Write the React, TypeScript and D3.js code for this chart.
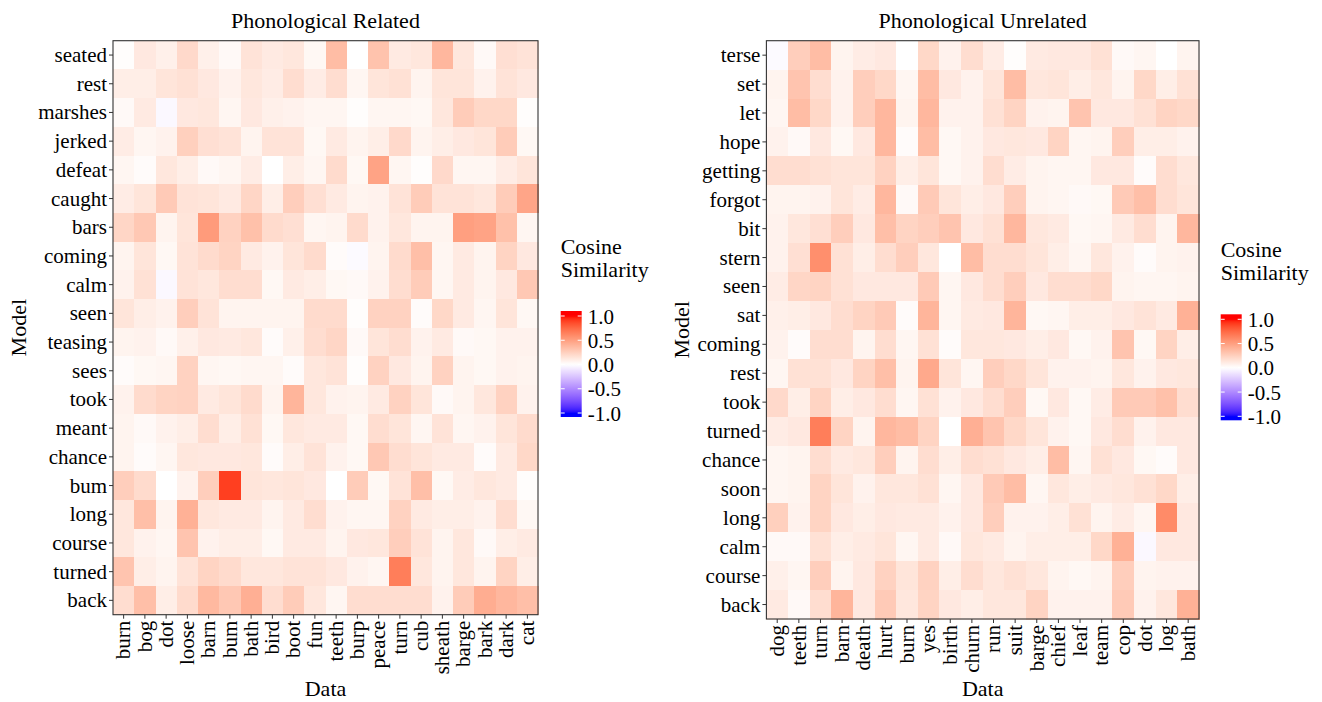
import React from "react";
import * as d3 from "d3";

const FONT = '"Liberation Serif", "Times New Roman", Times, serif';

const relatedTitle = "Phonological Related";
const unrelatedTitle = "Phonological Unrelated";
const xAxisTitle = "Data";
const yAxisTitle = "Model";
const legendTitleLines = ["Cosine", "Similarity"];
const legendBreaks = [1.0, 0.5, 0.0, -0.5, -1.0];
const legendLabels = ["1.0", "0.5", "0.0", "-0.5", "-1.0"];

const relatedRows = ["seated", "rest", "marshes", "jerked", "defeat", "caught", "bars", "coming", "calm", "seen", "teasing", "sees", "took", "meant", "chance", "bum", "long", "course", "turned", "back"];
const relatedCols = ["burn", "bog", "dot", "loose", "barn", "bum", "bath", "bird", "boot", "fun", "teeth", "burp", "peace", "turn", "cub", "sheath", "barge", "bark", "dark", "cat"];
const relatedValues = [
  [0.01, 0.12, 0.08, 0.2, 0.08, 0.03, 0.15, 0.11, 0.13, 0.04, 0.35, 0.0, 0.32, 0.11, 0.13, 0.38, 0.13, 0.03, 0.17, 0.15],
  [0.09, 0.09, 0.14, 0.16, 0.12, 0.07, 0.13, 0.1, 0.18, 0.1, 0.18, 0.05, 0.14, 0.16, 0.06, 0.14, 0.14, 0.07, 0.15, 0.12],
  [0.03, 0.11, -0.03, 0.12, 0.13, 0.05, 0.12, 0.08, 0.07, 0.05, 0.05, 0.01, 0.05, 0.05, 0.04, 0.13, 0.27, 0.21, 0.21, 0.01],
  [0.1, 0.05, 0.07, 0.25, 0.17, 0.15, 0.06, 0.15, 0.15, 0.04, 0.11, 0.06, 0.09, 0.2, 0.06, 0.09, 0.12, 0.14, 0.27, 0.04],
  [0.05, 0.02, 0.13, 0.09, 0.03, 0.05, 0.1, 0.0, 0.09, 0.05, 0.19, 0.04, 0.48, 0.05, 0.01, 0.2, 0.05, 0.05, 0.1, 0.14],
  [0.1, 0.14, 0.28, 0.15, 0.14, 0.11, 0.22, 0.09, 0.26, 0.17, 0.11, 0.06, 0.07, 0.15, 0.27, 0.15, 0.15, 0.13, 0.27, 0.47],
  [0.22, 0.29, 0.06, 0.14, 0.52, 0.24, 0.33, 0.19, 0.17, 0.05, 0.06, 0.19, 0.07, 0.13, 0.06, 0.06, 0.5, 0.48, 0.33, 0.05],
  [0.06, 0.14, 0.04, 0.15, 0.19, 0.23, 0.11, 0.07, 0.14, 0.19, 0.02, -0.02, 0.06, 0.19, 0.34, 0.05, 0.11, 0.06, 0.23, 0.12],
  [0.07, 0.16, -0.03, 0.15, 0.13, 0.18, 0.18, 0.04, 0.11, 0.09, 0.04, 0.03, 0.07, 0.18, 0.27, 0.05, 0.11, 0.06, 0.12, 0.29],
  [0.14, 0.09, 0.07, 0.26, 0.15, 0.06, 0.06, 0.06, 0.06, 0.19, 0.19, 0.01, 0.24, 0.24, 0.02, 0.21, 0.11, 0.05, 0.14, 0.04],
  [0.06, 0.07, 0.03, 0.08, 0.12, 0.11, 0.13, 0.02, 0.08, 0.18, 0.22, 0.03, 0.14, 0.18, 0.07, 0.11, 0.03, 0.04, 0.07, 0.07],
  [0.02, 0.04, 0.05, 0.24, 0.05, 0.04, 0.05, 0.05, 0.02, 0.13, 0.15, 0.01, 0.24, 0.12, 0.06, 0.24, 0.06, 0.04, 0.07, 0.06],
  [0.07, 0.19, 0.23, 0.24, 0.11, 0.14, 0.19, 0.06, 0.39, 0.13, 0.07, 0.06, 0.11, 0.24, 0.14, 0.03, 0.06, 0.13, 0.24, 0.07],
  [0.06, 0.03, 0.07, 0.09, 0.18, 0.09, 0.16, 0.04, 0.13, 0.11, 0.11, 0.04, 0.18, 0.14, 0.05, 0.15, 0.05, 0.07, 0.14, 0.19],
  [0.06, 0.02, 0.05, 0.13, 0.12, 0.12, 0.13, 0.02, 0.09, 0.15, 0.07, 0.04, 0.29, 0.18, 0.14, 0.11, 0.11, 0.02, 0.11, 0.21],
  [0.26, 0.19, 0.0, 0.07, 0.26, 0.9, 0.14, 0.13, 0.14, 0.12, 0.0, 0.27, 0.04, 0.15, 0.34, 0.04, 0.1, 0.13, 0.11, 0.01],
  [0.13, 0.34, 0.06, 0.41, 0.13, 0.11, 0.11, 0.06, 0.11, 0.18, 0.07, 0.05, 0.05, 0.24, 0.11, 0.09, 0.09, 0.07, 0.18, 0.04],
  [0.13, 0.07, 0.05, 0.31, 0.07, 0.09, 0.09, 0.04, 0.11, 0.11, 0.06, 0.12, 0.13, 0.26, 0.15, 0.06, 0.13, 0.03, 0.09, 0.11],
  [0.31, 0.09, 0.06, 0.15, 0.23, 0.19, 0.13, 0.13, 0.15, 0.15, 0.12, 0.07, 0.05, 0.66, 0.13, 0.06, 0.13, 0.06, 0.23, 0.09],
  [0.18, 0.34, 0.09, 0.19, 0.37, 0.29, 0.42, 0.18, 0.27, 0.13, 0.05, 0.18, 0.18, 0.18, 0.18, 0.07, 0.27, 0.43, 0.38, 0.34],
];

const unrelatedRows = ["terse", "set", "let", "hope", "getting", "forgot", "bit", "stern", "seen", "sat", "coming", "rest", "took", "turned", "chance", "soon", "long", "calm", "course", "back"];
const unrelatedCols = ["dog", "teeth", "turn", "barn", "death", "hurt", "burn", "yes", "birth", "churn", "run", "suit", "barge", "chief", "leaf", "team", "cop", "dot", "log", "bath"];
const unrelatedValues = [
  [-0.02, 0.26, 0.35, 0.06, 0.1, 0.12, 0.0, 0.21, 0.07, 0.18, 0.1, 0.01, 0.11, 0.12, 0.12, 0.16, 0.03, 0.05, 0.0, 0.06],
  [0.06, 0.31, 0.18, 0.07, 0.26, 0.21, 0.05, 0.35, 0.12, 0.07, 0.14, 0.35, 0.13, 0.14, 0.09, 0.13, 0.06, 0.21, 0.09, 0.16],
  [0.05, 0.35, 0.21, 0.07, 0.26, 0.38, 0.06, 0.38, 0.07, 0.07, 0.16, 0.23, 0.07, 0.06, 0.31, 0.12, 0.12, 0.16, 0.23, 0.21],
  [0.07, 0.03, 0.12, 0.04, 0.12, 0.38, 0.02, 0.35, 0.04, 0.07, 0.12, 0.13, 0.12, 0.23, 0.05, 0.06, 0.26, 0.09, 0.09, 0.07],
  [0.18, 0.18, 0.16, 0.14, 0.14, 0.24, 0.09, 0.14, 0.04, 0.07, 0.18, 0.1, 0.06, 0.05, 0.05, 0.12, 0.12, 0.02, 0.18, 0.13],
  [0.06, 0.06, 0.07, 0.14, 0.1, 0.38, 0.03, 0.28, 0.14, 0.09, 0.12, 0.26, 0.06, 0.05, 0.03, 0.04, 0.28, 0.34, 0.18, 0.14],
  [0.07, 0.13, 0.17, 0.26, 0.12, 0.34, 0.23, 0.26, 0.31, 0.12, 0.16, 0.38, 0.13, 0.11, 0.04, 0.05, 0.11, 0.18, 0.06, 0.38],
  [0.07, 0.17, 0.58, 0.16, 0.09, 0.18, 0.26, 0.13, 0.0, 0.35, 0.18, 0.18, 0.14, 0.09, 0.05, 0.13, 0.07, 0.02, 0.06, 0.07],
  [0.1, 0.22, 0.23, 0.16, 0.12, 0.12, 0.12, 0.28, 0.05, 0.12, 0.18, 0.26, 0.12, 0.18, 0.18, 0.21, 0.06, 0.05, 0.05, 0.06],
  [0.08, 0.09, 0.12, 0.18, 0.23, 0.28, 0.02, 0.39, 0.05, 0.11, 0.12, 0.39, 0.04, 0.05, 0.09, 0.09, 0.12, 0.15, 0.11, 0.41],
  [0.07, 0.02, 0.18, 0.18, 0.06, 0.18, 0.05, 0.16, 0.02, 0.13, 0.13, 0.12, 0.09, 0.12, 0.04, 0.07, 0.31, 0.04, 0.23, 0.09],
  [0.05, 0.16, 0.16, 0.12, 0.23, 0.34, 0.06, 0.45, 0.14, 0.05, 0.26, 0.21, 0.14, 0.07, 0.07, 0.06, 0.13, 0.07, 0.12, 0.13],
  [0.2, 0.09, 0.23, 0.09, 0.12, 0.18, 0.05, 0.16, 0.07, 0.12, 0.18, 0.26, 0.04, 0.12, 0.04, 0.1, 0.28, 0.28, 0.33, 0.18],
  [0.1, 0.12, 0.66, 0.23, 0.06, 0.38, 0.35, 0.23, 0.0, 0.42, 0.31, 0.21, 0.14, 0.07, 0.04, 0.12, 0.18, 0.07, 0.12, 0.12],
  [0.05, 0.06, 0.18, 0.11, 0.13, 0.26, 0.06, 0.18, 0.09, 0.18, 0.16, 0.12, 0.09, 0.35, 0.05, 0.16, 0.12, 0.04, 0.02, 0.12],
  [0.05, 0.06, 0.23, 0.14, 0.07, 0.13, 0.13, 0.16, 0.05, 0.12, 0.28, 0.35, 0.05, 0.13, 0.09, 0.11, 0.13, 0.16, 0.21, 0.09],
  [0.25, 0.07, 0.23, 0.12, 0.09, 0.12, 0.11, 0.11, 0.07, 0.12, 0.26, 0.07, 0.07, 0.09, 0.16, 0.06, 0.1, 0.05, 0.6, 0.12],
  [0.03, 0.03, 0.16, 0.09, 0.11, 0.14, 0.05, 0.11, 0.03, 0.13, 0.11, 0.06, 0.09, 0.09, 0.09, 0.21, 0.41, -0.03, 0.12, 0.12],
  [0.08, 0.05, 0.26, 0.06, 0.12, 0.24, 0.14, 0.24, 0.09, 0.18, 0.13, 0.16, 0.13, 0.06, 0.04, 0.06, 0.26, 0.06, 0.07, 0.07],
  [0.11, 0.03, 0.18, 0.39, 0.12, 0.28, 0.13, 0.23, 0.12, 0.09, 0.13, 0.13, 0.23, 0.07, 0.07, 0.07, 0.28, 0.07, 0.13, 0.41],
];

const posInterp = d3.interpolateLab("#ffffff", "#ff0000");
const negInterp = d3.interpolateLab("#ffffff", "#0000ff");
const colorOf = (v: number) => {
  const t = Math.max(-1, Math.min(1, v));
  return t >= 0 ? posInterp(t) : negInterp(-t);
};

type Layout = {
  id: string;
  left: number;
  right: number;
  top: number;
  bottom: number;
  modelX: number;
  titleY: number;
  legendX: number;
  legendTitleY: number;
  legendBarTop: number;
};

function Heatmap({ title, rows, cols, values, L }: { title: string; rows: string[]; cols: string[]; values: number[][]; L: Layout }) {
  const x = d3.scaleBand<string>().domain(cols).range([L.left, L.right]);
  const y = d3.scaleBand<string>().domain(rows).range([L.top, L.bottom]);
  const cx = (L.left + L.right) / 2;
  const cy = (L.top + L.bottom) / 2;
  const barW = 21;
  const barH = 106;
  const barTop = L.legendBarTop;
  const lg = d3.scaleLinear().domain([-1, 1]).range([barTop + barH - 4, barTop + 5]);
  const stops = d3.range(0, 61).map((k) => {
    const yy = barTop + (k / 60) * barH;
    return { off: k / 60, c: colorOf(lg.invert(yy)) };
  });
  const gid = `grad-${L.id}`;
  return (
    <g>
      <text x={cx} y={L.titleY} textAnchor="middle" fontSize={22}>{title}</text>
      <g shapeRendering="crispEdges">
        {rows.map((r, i) =>
          cols.map((c, j) => (
            <rect key={`${r}-${c}`} x={x(c)} y={y(r)} width={x.bandwidth() + 0.5} height={y.bandwidth() + 0.5} fill={colorOf(values[i][j])} />
          ))
        )}
      </g>
      <rect x={L.left} y={L.top} width={L.right - L.left} height={L.bottom - L.top} fill="none" stroke="#333" strokeWidth={1.1} />
      {rows.map((r) => {
        const yy = (y(r) as number) + y.bandwidth() / 2;
        return (
          <g key={`yt-${r}`}>
            <line x1={L.left - 4} x2={L.left} y1={yy} y2={yy} stroke="#333" strokeWidth={1} />
            <text x={L.left - 6} y={yy + 7} textAnchor="end" fontSize={21}>{r}</text>
          </g>
        );
      })}
      {cols.map((c) => {
        const xx = (x(c) as number) + x.bandwidth() / 2;
        return (
          <g key={`xt-${c}`}>
            <line x1={xx} x2={xx} y1={L.bottom} y2={L.bottom + 4} stroke="#333" strokeWidth={1} />
            <text transform={`translate(${xx},${L.bottom + 6}) rotate(-90)`} dy="0.32em" textAnchor="end" fontSize={21}>{c}</text>
          </g>
        );
      })}
      <text x={cx} y={696} textAnchor="middle" fontSize={22}>{xAxisTitle}</text>
      <text transform={`translate(${L.modelX},${cy}) rotate(-90)`} textAnchor="middle" fontSize={22}>{yAxisTitle}</text>
      <defs>
        <linearGradient id={gid} x1="0" y1="0" x2="0" y2="1">
          {stops.map((s, k) => (
            <stop key={k} offset={s.off} stopColor={s.c} />
          ))}
        </linearGradient>
      </defs>
      {legendTitleLines.map((t, k) => (
        <text key={t} x={L.legendX} y={L.legendTitleY + k * 23} fontSize={22}>{t}</text>
      ))}
      <rect x={L.legendX} y={barTop} width={barW} height={barH} fill={`url(#${gid})`} />
      {legendBreaks.map((b, k) => {
        const yy = lg(b);
        return (
          <g key={`lb-${k}`}>
            <line x1={L.legendX} x2={L.legendX + 4} y1={yy} y2={yy} stroke="#ffffff" strokeWidth={1} />
            <line x1={L.legendX + barW - 4} x2={L.legendX + barW} y1={yy} y2={yy} stroke="#ffffff" strokeWidth={1} />
            <text x={L.legendX + barW + 6} y={yy + 7.5} fontSize={21}>{legendLabels[k]}</text>
          </g>
        );
      })}
    </g>
  );
}

const leftLayout: Layout = { id: "rel", left: 113, right: 538, top: 40.7, bottom: 614.7, modelX: 26, titleY: 28, legendX: 560.7, legendTitleY: 254, legendBarTop: 311 };
const rightLayout: Layout = { id: "unrel", left: 766.4, right: 1199, top: 40.7, bottom: 619, modelX: 689, titleY: 28, legendX: 1220.7, legendTitleY: 257, legendBarTop: 314.3 };

export default function App() {
  return (
    <svg width={1322} height={702} style={{ position: "absolute", left: 0, top: 0, background: "#ffffff" }} fontFamily={FONT} fill="#000">
      <rect x={0} y={0} width={1322} height={702} fill="#ffffff" />
      <Heatmap title={relatedTitle} rows={relatedRows} cols={relatedCols} values={relatedValues} L={leftLayout} />
      <Heatmap title={unrelatedTitle} rows={unrelatedRows} cols={unrelatedCols} values={unrelatedValues} L={rightLayout} />
    </svg>
  );
}
